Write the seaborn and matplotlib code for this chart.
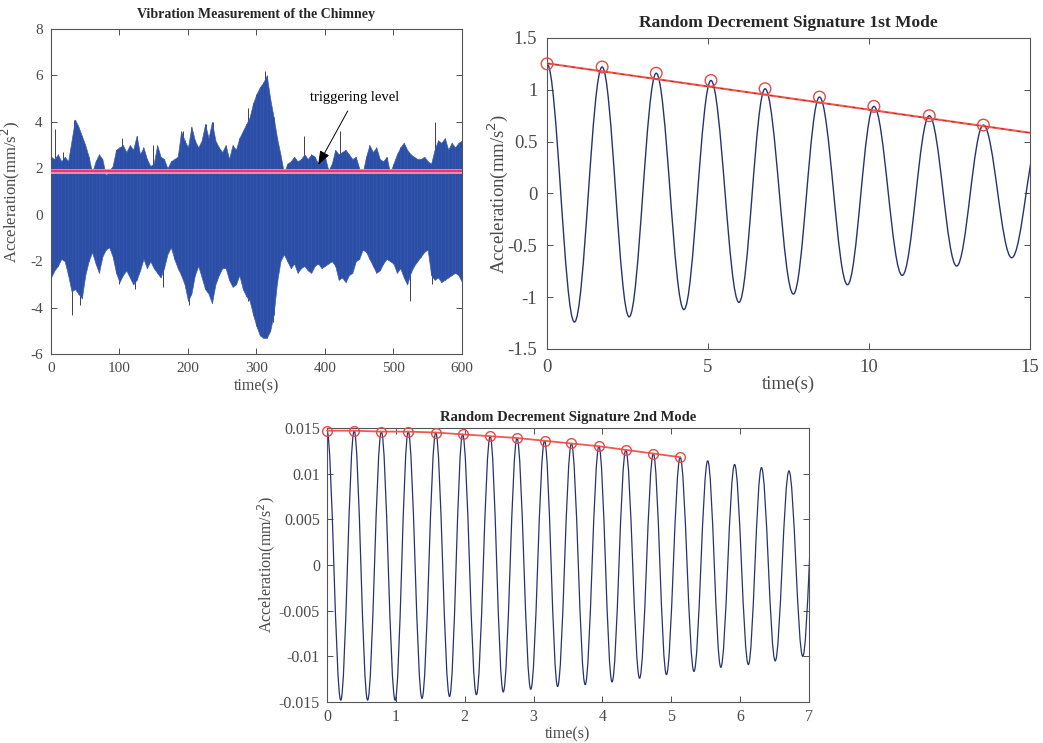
import matplotlib
matplotlib.use("Agg")
import matplotlib.pyplot as plt
import numpy as np
import pandas as pd
import seaborn as sns
from matplotlib.path import Path
from matplotlib.patches import PathPatch

sns.set_theme(style="ticks")
plt.rcParams['font.family'] = ['Liberation Serif', 'DejaVu Serif']
plt.rcParams['axes.unicode_minus'] = False

# --- vibration record (envelope read every 5 s, mm/s^2) ---
vib_t = list(range(0, 601, 5))
vib_upper = [2.5, 2.4, 2.6, 2.3, 2.5, 2.3, 3.2, 4.1, 3.8, 3.4, 3.0, 2.5, 1.8, 2.3, 2.6, 2.4,
             1.7, 1.9, 2.1, 2.8, 2.9, 3.0, 2.7, 3.0, 2.8, 3.4, 2.6, 2.9, 2.4, 2.1, 2.2, 3.0,
             2.5, 2.4, 2.0, 2.3, 2.4, 2.5, 3.6, 3.2, 2.9, 3.8, 3.2, 2.9, 3.2, 3.9, 3.3, 4.0,
             3.2, 2.9, 2.7, 3.0, 2.4, 3.0, 2.8, 3.3, 3.6, 3.9, 4.2, 4.8, 5.2, 5.5, 5.7, 6.0,
             5.0, 4.2, 3.3, 2.6, 1.8, 2.2, 2.3, 2.5, 2.3, 2.4, 2.6, 2.4, 2.6, 2.5, 2.2, 2.4,
             2.5, 1.9, 2.2, 2.8, 2.6, 2.7, 2.8, 2.6, 2.4, 2.5, 2.0, 1.8, 2.5, 3.0, 2.7, 2.9,
             2.4, 2.3, 2.5, 1.8, 2.2, 2.6, 2.9, 3.1, 2.8, 2.6, 2.5, 2.4, 2.4, 2.5, 2.3, 2.2,
             2.8, 3.2, 3.1, 3.3, 2.8, 3.1, 2.9, 3.1, 3.2]
vib_lower = [-2.7, -2.4, -2.2, -1.9, -2.0, -2.6, -3.3, -3.2, -3.4, -3.6, -2.6, -2.0, -1.6, -2.1,
             -2.5, -1.8, -1.5, -1.4, -1.8, -2.5, -2.9, -2.6, -2.4, -2.7, -3.0, -2.8, -2.4, -1.9,
             -2.3, -2.0, -2.3, -2.5, -2.7, -2.3, -1.7, -1.4, -1.9, -2.3, -2.6, -3.0, -3.7, -3.4,
             -2.6, -2.2, -2.7, -3.2, -3.4, -3.8, -3.0, -2.6, -2.3, -2.3, -2.8, -3.1, -3.0, -2.6,
             -3.2, -3.5, -3.7, -4.3, -4.8, -5.2, -5.3, -5.3, -5.0, -4.3, -2.9, -2.0, -1.7, -2.0,
             -2.3, -2.1, -2.5, -2.3, -2.2, -2.4, -2.5, -2.2, -2.1, -2.3, -2.2, -2.1, -2.0, -2.2,
             -2.8, -2.7, -2.9, -2.6, -2.5, -2.0, -1.9, -1.5, -1.6, -1.9, -2.2, -2.5, -2.4, -2.1,
             -1.9, -2.0, -2.1, -2.5, -2.3, -2.7, -3.0, -2.5, -2.2, -2.0, -1.8, -1.6, -1.5, -2.6,
             -2.8, -2.7, -2.9, -2.8, -2.7, -2.6, -2.5, -2.6, -2.9]
spike_t = [6, 17, 33, 103, 125, 149, 192, 226, 237, 287, 313, 369, 422, 561,
           31, 43, 99, 123, 164, 201, 235, 288, 324, 524, 556]
spike_v = [3.7, 2.7, 4.1, 3.3, 3.4, 3.0, 3.6, 3.9, 4.0, 4.6, 6.2, 3.4, 3.6, 4.0,
           -4.3, -3.9, -3.0, -3.2, -3.1, -3.9, -3.8, -3.7, -4.6, -3.7, -3.0]
trigger_level = 1.9

# --- 1st mode random decrement signature: extrema (s, mm/s^2) ---
m1_t = [0.0, 0.85, 1.71, 2.55, 3.39, 4.25, 5.09, 5.96, 6.77, 7.65, 8.46, 9.33, 10.15,
        11.03, 11.87, 12.72, 13.55, 14.43, 15.3]
m1_v = [1.25, -1.24, 1.22, -1.19, 1.16, -1.12, 1.09, -1.05, 1.01, -0.97, 0.93, -0.88, 0.84,
        -0.79, 0.75, -0.70, 0.66, -0.62, 0.57]
m1_peak_t = [0.0, 1.71, 3.39, 5.09, 6.77, 8.46, 10.15, 11.87, 13.55]
m1_peak_v = [1.25, 1.22, 1.16, 1.09, 1.01, 0.93, 0.84, 0.75, 0.66]
m1_fit_t = [0, 15]
m1_fit_v = [1.255, 0.585]

# --- 2nd mode random decrement signature: extrema ---
m2_t = [0.0, 0.20, 0.395, 0.59, 0.79, 0.99, 1.18, 1.38, 1.58, 1.78, 1.97, 2.17, 2.37, 2.56,
        2.76, 2.96, 3.16, 3.35, 3.55, 3.75, 3.95, 4.14, 4.34, 4.54, 4.74, 4.93, 5.13, 5.33,
        5.53, 5.72, 5.92, 6.12, 6.31, 6.51, 6.71, 6.91, 7.10]
m2_v = [0.0147, -0.0148, 0.0147, -0.0148, 0.0146, -0.0148, 0.0146, -0.0146, 0.0145, -0.0144,
        0.0143, -0.0142, 0.0141, -0.0139, 0.0139, -0.0136, 0.0136, -0.0133, 0.0133, -0.0131,
        0.0130, -0.0128, 0.0126, -0.0124, 0.0122, -0.0120, 0.0118, -0.01165, 0.0114, -0.0112,
        0.0110, -0.0109, 0.01066, -0.0105, 0.0103, -0.0100, 0.0100]
m2_peak_t = [0.0, 0.395, 0.79, 1.18, 1.58, 1.97, 2.37, 2.76, 3.16, 3.55, 3.95, 4.34, 4.74, 5.13]
m2_peak_v = [0.0147, 0.0147, 0.0146, 0.0146, 0.0145, 0.0143, 0.0141, 0.0139, 0.0136, 0.0133,
             0.0130, 0.0126, 0.0122, 0.0118]

GRAY = "#4a4a4a"
SIG = "#26336f"


def smooth_wave(ax, t, v, color, lw):
    # cubic segments between extrema with flat tangents at each extremum
    verts = [(t[0], v[0])]
    codes = [Path.MOVETO]
    for i in range(len(t) - 1):
        a = 0.3634 * (t[i + 1] - t[i])
        verts += [(t[i] + a, v[i]), (t[i + 1] - a, v[i + 1]), (t[i + 1], v[i + 1])]
        codes += [Path.CURVE4] * 3
    ax.add_patch(PathPatch(Path(verts, codes), fill=False, edgecolor=color, lw=lw, zorder=2))


def style(ax, fs, pad):
    ax.tick_params(direction="in", top=True, right=True, length=4, width=0.6,
                   colors="#333333", labelsize=fs, labelcolor=GRAY, pad=pad)
    for s in ax.spines.values():
        s.set_linewidth(0.8)
        s.set_color("#555555")
        s.set_visible(True)


fig = plt.figure(figsize=(10.43, 7.43), dpi=100)
ax1 = fig.add_axes([0.0489, 0.5235, 0.394, 0.4374])
ax2 = fig.add_axes([0.5245, 0.5303, 0.4631, 0.4186])
ax3 = fig.add_axes([0.3135, 0.0552, 0.4621, 0.3688])

# panel 1
ax1.vlines(spike_t, 0, spike_v, color="#3a4150", lw=0.7, zorder=0.5)
ax1.fill_between(vib_t, vib_lower, vib_upper, color="#2b4ea6", lw=0.5,
                 edgecolor="#3d5fb3", zorder=1)
ax1.vlines(vib_t, vib_lower, vib_upper, color="#3556ad", lw=0.6, zorder=1.2)
trig = pd.DataFrame({"t": [0, 600], "a": [trigger_level, trigger_level]})
sns.lineplot(data=trig, x="t", y="a", ax=ax1, color="#ff9fb8", lw=3.4, zorder=3)
sns.lineplot(data=trig, x="t", y="a", ax=ax1, color="#f5336a", lw=1.7, zorder=4)
ax1.annotate("triggering level", xy=(390, 2.15), xytext=(444, 5.05), ha="center", va="center",
             fontsize=10.5, color="black",
             arrowprops=dict(arrowstyle="-|>,head_length=0.8,head_width=0.3", color="black", lw=0.7,
                             shrinkA=3, shrinkB=0))
ax1.set_xlim(0, 600)
ax1.set_ylim(-6, 8)
ax1.set_xticks(range(0, 601, 100))
ax1.set_yticks(range(-6, 9, 2))
style(ax1, 11, 6)
ax1.set_title("Vibration Measurement of the Chimney", fontsize=10, fontweight="bold", pad=8)
ax1.set_xlabel("time(s)", fontsize=11.5, color=GRAY)
ax1.set_ylabel("Acceleration(mm/s$^2$)", fontsize=12, color=GRAY)
ax1.xaxis.set_label_coords(0.5, -0.075)
ax1.yaxis.set_label_coords(-0.07, 0.5)

# panel 2
smooth_wave(ax2, m1_t, m1_v, SIG, 1.0)
fit1 = pd.DataFrame({"t": m1_fit_t, "a": m1_fit_v})
sns.lineplot(data=fit1, x="t", y="a", ax=ax2, color="#ee5a50", lw=1.5, zorder=3)
sns.lineplot(data=fit1, x="t", y="a", ax=ax2, color="#b02020", lw=0.6, dashes=(4, 6), zorder=4)
pk1 = pd.DataFrame({"t": m1_peak_t, "a": m1_peak_v})
sns.scatterplot(data=pk1, x="t", y="a", ax=ax2, s=70, facecolor="none", edgecolor="#e34a4a",
                linewidth=1.0, zorder=5, clip_on=False)
ax2.set_xlim(0, 15)
ax2.set_ylim(-1.5, 1.5)
ax2.set_xticks([0, 5, 10, 15])
ax2.set_yticks([-1.5, -1, -0.5, 0, 0.5, 1, 1.5])
ax2.set_yticklabels(["-1.5", "-1", "-0.5", "0", "0.5", "1", "1.5"])
style(ax2, 13.5, 7)
ax2.set_title("Random Decrement Signature 1st Mode", fontsize=12.5, fontweight="bold", pad=8)
ax2.set_xlabel("time(s)", fontsize=13.5, color=GRAY)
ax2.set_ylabel("Acceleration(mm/s$^2$)", fontsize=13.5, color=GRAY)
ax2.xaxis.set_label_coords(0.5, -0.085)
ax2.yaxis.set_label_coords(-0.077, 0.5)

# panel 3
smooth_wave(ax3, m2_t, m2_v, SIG, 0.9)
pk2 = pd.DataFrame({"t": m2_peak_t, "a": m2_peak_v})
sns.lineplot(data=pk2, x="t", y="a", ax=ax3, color="#ee5a50", lw=1.3, marker="o", ms=7,
             mfc="none", mec="#e34a4a", mew=1.0, zorder=4, clip_on=False)
ax3.set_xlim(0, 7)
ax3.set_ylim(-0.015, 0.015)
ax3.set_xticks(range(0, 8))
ax3.set_yticks([-0.015, -0.01, -0.005, 0, 0.005, 0.01, 0.015])
ax3.set_yticklabels(["-0.015", "-0.01", "-0.005", "0", "0.005", "0.01", "0.015"])
style(ax3, 11.5, 5)
ax3.set_title("Random Decrement Signature 2nd Mode", fontsize=10.5, fontweight="bold", pad=5)
ax3.set_xlabel("time(s)", fontsize=11.5, color=GRAY)
ax3.set_ylabel("Acceleration(mm/s$^2$)", fontsize=11.5, color=GRAY)
ax3.xaxis.set_label_coords(0.5, -0.088)
ax3.yaxis.set_label_coords(-0.104, 0.5)

for ax in (ax1, ax2, ax3):
    leg = ax.get_legend()
    if leg is not None:
        leg.remove()

fig.savefig("out.png", dpi=100, facecolor="white")
